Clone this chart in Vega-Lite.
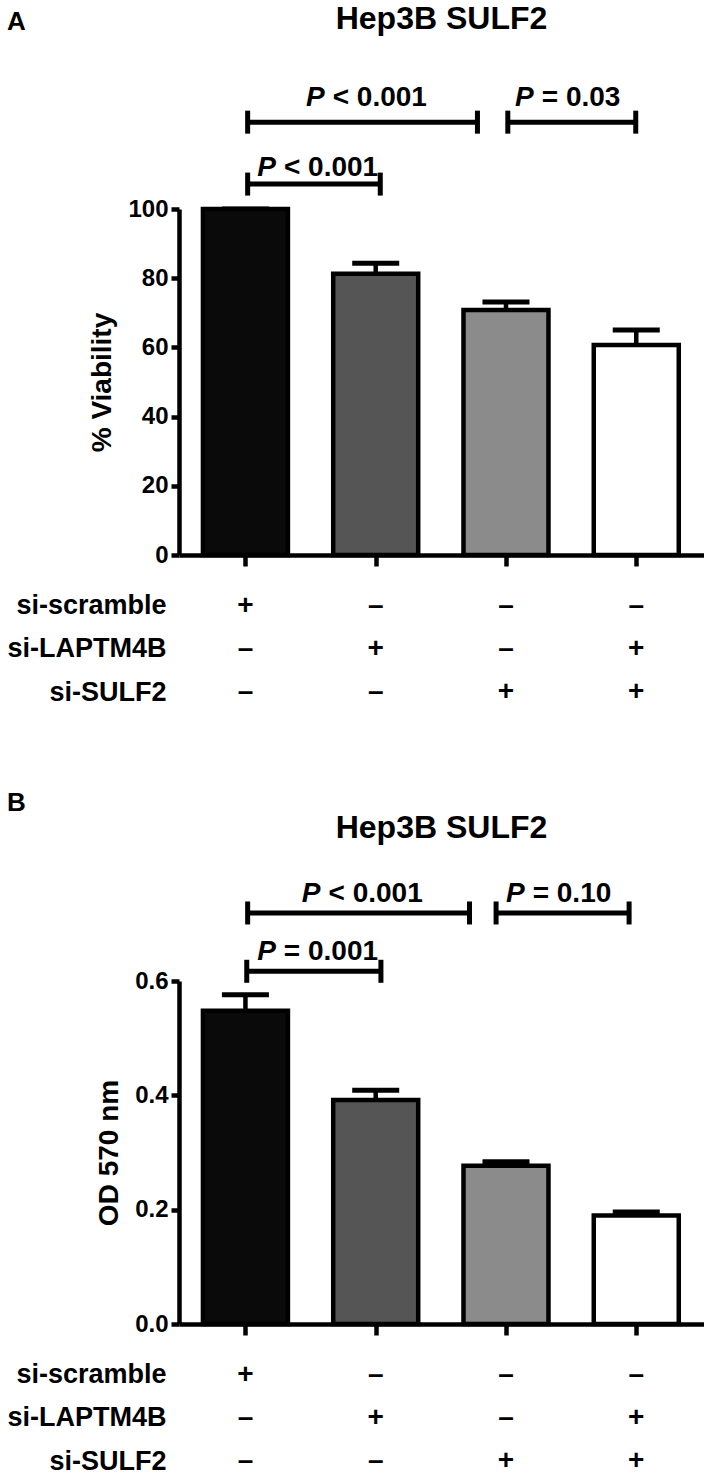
{
  "$schema": "https://vega.github.io/schema/vega-lite/v6.json",
  "padding": {"left": 6, "top": 2, "right": 0, "bottom": 0},
  "background": "white",
  "datasets": {
    "barsA": [
      {"pos": 1, "treatment": "si-scramble", "value": 100, "upper": 100},
      {"pos": 2, "treatment": "si-LAPTM4B", "value": 81.3, "upper": 84.3},
      {"pos": 3, "treatment": "si-SULF2", "value": 70.8, "upper": 73.1},
      {"pos": 4, "treatment": "si-LAPTM4B + si-SULF2", "value": 60.7, "upper": 65.0}
    ],
    "barsB": [
      {"pos": 1, "treatment": "si-scramble", "value": 0.548, "upper": 0.576},
      {"pos": 2, "treatment": "si-LAPTM4B", "value": 0.392, "upper": 0.409},
      {"pos": 3, "treatment": "si-SULF2", "value": 0.277, "upper": 0.284},
      {"pos": 4, "treatment": "si-LAPTM4B + si-SULF2", "value": 0.19, "upper": 0.196}
    ],
    "bracketsA": [
      {"from": 1.017, "to": 2.781, "mid": 1.9, "level": 125.1, "textLevel": 129.9, "label": "< 0.001"},
      {"from": 3.014, "to": 3.996, "mid": 3.505, "level": 125.1, "textLevel": 129.9, "label": "= 0.03"},
      {"from": 1.017, "to": 2.035, "mid": 1.526, "level": 107.2, "textLevel": 109.6, "label": "< 0.001"}
    ],
    "bracketsB": [
      {"from": 1.017, "to": 2.72, "mid": 1.868, "level": 0.719, "textLevel": 0.738, "label": "< 0.001"},
      {"from": 2.924, "to": 3.945, "mid": 3.435, "level": 0.719, "textLevel": 0.738, "label": "= 0.10"},
      {"from": 1.01, "to": 2.04, "mid": 1.525, "level": 0.617, "textLevel": 0.636, "label": "= 0.001"}
    ],
    "design": [
      {"pos": 1, "factor": "si-scramble", "sign": "+"},
      {"pos": 2, "factor": "si-scramble", "sign": "–"},
      {"pos": 3, "factor": "si-scramble", "sign": "–"},
      {"pos": 4, "factor": "si-scramble", "sign": "–"},
      {"pos": 1, "factor": "si-LAPTM4B", "sign": "–"},
      {"pos": 2, "factor": "si-LAPTM4B", "sign": "+"},
      {"pos": 3, "factor": "si-LAPTM4B", "sign": "–"},
      {"pos": 4, "factor": "si-LAPTM4B", "sign": "+"},
      {"pos": 1, "factor": "si-SULF2", "sign": "–"},
      {"pos": 2, "factor": "si-SULF2", "sign": "–"},
      {"pos": 3, "factor": "si-SULF2", "sign": "+"},
      {"pos": 4, "factor": "si-SULF2", "sign": "+"}
    ]
  },
  "spacing": 84,
  "vconcat": [
    {
      "title": {"text": "A", "anchor": "start", "frame": "bounds", "fontSize": 26, "offset": -32},
      "bounds": "flush",
      "spacing": 0,
      "vconcat": [
        {
          "width": 525,
          "height": 346,
          "title": {"text": "Hep3B SULF2", "fontSize": 32, "anchor": "middle", "frame": "group", "offset": 48},
          "layer": [
            {
              "data": {"name": "barsA"},
              "mark": {"type": "rule", "color": "black", "strokeWidth": 4.5},
              "encoding": {
                "x": {"field": "pos", "type": "quantitative", "title": null, "scale": {"domain": [0.49, 4.52], "padding": 0, "nice": false, "zero": false},
                  "axis": {"values": [1, 2, 3, 4], "labels": false, "tickSize": 11, "grid": false}},
                "y": {"field": "value", "type": "quantitative", "title": "% Viability", "scale": {"domain": [0, 100], "padding": 0, "nice": false, "zero": false},
                  "axis": {"values": [0, 20, 40, 60, 80, 100], "labelFontSize": 24, "titleFontSize": 28, "tickSize": 8, "labelPadding": 3, "titlePadding": 11, "grid": false}},
                "y2": {"field": "upper"}
              }
            },
            {
              "data": {"name": "barsA"},
              "mark": {"type": "tick", "orient": "horizontal", "size": 47, "thickness": 5, "color": "black", "opacity": 1},
              "encoding": {
                "x": {"field": "pos", "type": "quantitative", "title": null, "scale": {"domain": [0.49, 4.52], "padding": 0, "nice": false, "zero": false}},
                "y": {"field": "upper", "type": "quantitative", "title": "% Viability", "scale": {"domain": [0, 100], "padding": 0, "nice": false, "zero": false}}
              }
            },
            {
              "data": {"name": "barsA"},
              "mark": {"type": "bar", "orient": "vertical", "width": 85, "stroke": "black", "strokeWidth": 4.5},
              "encoding": {
                "x": {"field": "pos", "type": "quantitative", "title": null, "scale": {"domain": [0.49, 4.52], "padding": 0, "nice": false, "zero": false}},
                "y": {"field": "value", "type": "quantitative", "title": "% Viability", "scale": {"domain": [0, 100], "padding": 0, "nice": false, "zero": false}},
                "fill": {"field": "treatment", "type": "nominal", "scale": {"domain": ["si-scramble", "si-LAPTM4B", "si-SULF2", "si-LAPTM4B + si-SULF2"], "range": ["#0a0a0a", "#555555", "#8b8b8b", "#ffffff"]}, "legend": null}
              }
            },
            {
              "data": {"name": "bracketsA"},
              "mark": {"type": "rule", "color": "black", "strokeWidth": 5},
              "encoding": {
                "x": {"field": "from", "type": "quantitative", "title": null, "scale": {"domain": [0.49, 4.52], "padding": 0, "nice": false, "zero": false}},
                "x2": {"field": "to"},
                "y": {"field": "level", "type": "quantitative", "title": "% Viability", "scale": {"domain": [0, 100], "padding": 0, "nice": false, "zero": false}}
              }
            },
            {
              "data": {"name": "bracketsA"},
              "mark": {"type": "tick", "orient": "vertical", "size": 23, "thickness": 5, "color": "black", "opacity": 1},
              "encoding": {
                "x": {"field": "from", "type": "quantitative", "title": null, "scale": {"domain": [0.49, 4.52], "padding": 0, "nice": false, "zero": false}},
                "y": {"field": "level", "type": "quantitative", "title": "% Viability", "scale": {"domain": [0, 100], "padding": 0, "nice": false, "zero": false}}
              }
            },
            {
              "data": {"name": "bracketsA"},
              "mark": {"type": "tick", "orient": "vertical", "size": 23, "thickness": 5, "color": "black", "opacity": 1},
              "encoding": {
                "x": {"field": "to", "type": "quantitative", "title": null, "scale": {"domain": [0.49, 4.52], "padding": 0, "nice": false, "zero": false}},
                "y": {"field": "level", "type": "quantitative", "title": "% Viability", "scale": {"domain": [0, 100], "padding": 0, "nice": false, "zero": false}}
              }
            },
            {
              "data": {"name": "bracketsA"},
              "mark": {"type": "text", "text": "P", "fontStyle": "italic", "fontWeight": "bold", "fontSize": 28, "align": "right", "baseline": "alphabetic", "dx": -38, "color": "black"},
              "encoding": {
                "x": {"field": "mid", "type": "quantitative", "title": null, "scale": {"domain": [0.49, 4.52], "padding": 0, "nice": false, "zero": false}},
                "y": {"field": "textLevel", "type": "quantitative", "title": "% Viability", "scale": {"domain": [0, 100], "padding": 0, "nice": false, "zero": false}}
              }
            },
            {
              "data": {"name": "bracketsA"},
              "mark": {"type": "text", "fontWeight": "bold", "fontSize": 28, "align": "left", "baseline": "alphabetic", "dx": -30, "color": "black"},
              "encoding": {
                "x": {"field": "mid", "type": "quantitative", "title": null, "scale": {"domain": [0.49, 4.52], "padding": 0, "nice": false, "zero": false}},
                "y": {"field": "textLevel", "type": "quantitative", "title": "% Viability", "scale": {"domain": [0, 100], "padding": 0, "nice": false, "zero": false}},
                "text": {"field": "label"}
              }
            }
          ]
        },
        {
          "width": 525,
          "height": 137,
          "data": {"name": "design"},
          "mark": {"type": "text", "fontSize": 28, "fontWeight": "bold", "color": "black"},
          "encoding": {
            "x": {"field": "pos", "type": "quantitative", "scale": {"domain": [0.49, 4.52], "padding": 0, "nice": false, "zero": false}, "axis": null},
            "y": {"field": "factor", "type": "nominal", "sort": ["si-scramble", "si-LAPTM4B", "si-SULF2"],
              "scale": {"type": "point", "padding": 0.593, "align": 1},
              "axis": {"title": null, "domain": false, "ticks": false, "labelFontSize": 27, "labelPadding": 13, "grid": false}},
            "text": {"field": "sign"}
          }
        }
      ]
    },
    {
      "title": {"text": "B", "anchor": "start", "frame": "bounds", "fontSize": 26, "offset": -4},
      "bounds": "flush",
      "spacing": 0,
      "vconcat": [
        {
          "width": 525,
          "height": 343,
          "title": {"text": "Hep3B SULF2", "fontSize": 32, "anchor": "middle", "frame": "group", "offset": 35},
          "layer": [
            {
              "data": {"name": "barsB"},
              "mark": {"type": "rule", "color": "black", "strokeWidth": 4.5},
              "encoding": {
                "x": {"field": "pos", "type": "quantitative", "title": null, "scale": {"domain": [0.49, 4.52], "padding": 0, "nice": false, "zero": false},
                  "axis": {"values": [1, 2, 3, 4], "labels": false, "tickSize": 11, "grid": false}},
                "y": {"field": "value", "type": "quantitative", "title": "OD 570 nm", "scale": {"domain": [0, 0.6], "padding": 0, "nice": false, "zero": false},
                  "axis": {"values": [0, 0.2, 0.4, 0.6], "format": ".1f", "labelFontSize": 24, "titleFontSize": 28, "tickSize": 8, "labelPadding": 3, "titlePadding": 11, "grid": false}},
                "y2": {"field": "upper"}
              }
            },
            {
              "data": {"name": "barsB"},
              "mark": {"type": "tick", "orient": "horizontal", "size": 47, "thickness": 5, "color": "black", "opacity": 1},
              "encoding": {
                "x": {"field": "pos", "type": "quantitative", "title": null, "scale": {"domain": [0.49, 4.52], "padding": 0, "nice": false, "zero": false}},
                "y": {"field": "upper", "type": "quantitative", "title": "OD 570 nm", "scale": {"domain": [0, 0.6], "padding": 0, "nice": false, "zero": false}}
              }
            },
            {
              "data": {"name": "barsB"},
              "mark": {"type": "bar", "orient": "vertical", "width": 85, "stroke": "black", "strokeWidth": 4.5},
              "encoding": {
                "x": {"field": "pos", "type": "quantitative", "title": null, "scale": {"domain": [0.49, 4.52], "padding": 0, "nice": false, "zero": false}},
                "y": {"field": "value", "type": "quantitative", "title": "OD 570 nm", "scale": {"domain": [0, 0.6], "padding": 0, "nice": false, "zero": false}},
                "fill": {"field": "treatment", "type": "nominal", "scale": {"domain": ["si-scramble", "si-LAPTM4B", "si-SULF2", "si-LAPTM4B + si-SULF2"], "range": ["#0a0a0a", "#555555", "#8b8b8b", "#ffffff"]}, "legend": null}
              }
            },
            {
              "data": {"name": "bracketsB"},
              "mark": {"type": "rule", "color": "black", "strokeWidth": 5},
              "encoding": {
                "x": {"field": "from", "type": "quantitative", "title": null, "scale": {"domain": [0.49, 4.52], "padding": 0, "nice": false, "zero": false}},
                "x2": {"field": "to"},
                "y": {"field": "level", "type": "quantitative", "title": "OD 570 nm", "scale": {"domain": [0, 0.6], "padding": 0, "nice": false, "zero": false}}
              }
            },
            {
              "data": {"name": "bracketsB"},
              "mark": {"type": "tick", "orient": "vertical", "size": 23, "thickness": 5, "color": "black", "opacity": 1},
              "encoding": {
                "x": {"field": "from", "type": "quantitative", "title": null, "scale": {"domain": [0.49, 4.52], "padding": 0, "nice": false, "zero": false}},
                "y": {"field": "level", "type": "quantitative", "title": "OD 570 nm", "scale": {"domain": [0, 0.6], "padding": 0, "nice": false, "zero": false}}
              }
            },
            {
              "data": {"name": "bracketsB"},
              "mark": {"type": "tick", "orient": "vertical", "size": 23, "thickness": 5, "color": "black", "opacity": 1},
              "encoding": {
                "x": {"field": "to", "type": "quantitative", "title": null, "scale": {"domain": [0.49, 4.52], "padding": 0, "nice": false, "zero": false}},
                "y": {"field": "level", "type": "quantitative", "title": "OD 570 nm", "scale": {"domain": [0, 0.6], "padding": 0, "nice": false, "zero": false}}
              }
            },
            {
              "data": {"name": "bracketsB"},
              "mark": {"type": "text", "text": "P", "fontStyle": "italic", "fontWeight": "bold", "fontSize": 28, "align": "right", "baseline": "alphabetic", "dx": -38, "color": "black"},
              "encoding": {
                "x": {"field": "mid", "type": "quantitative", "title": null, "scale": {"domain": [0.49, 4.52], "padding": 0, "nice": false, "zero": false}},
                "y": {"field": "textLevel", "type": "quantitative", "title": "OD 570 nm", "scale": {"domain": [0, 0.6], "padding": 0, "nice": false, "zero": false}}
              }
            },
            {
              "data": {"name": "bracketsB"},
              "mark": {"type": "text", "fontWeight": "bold", "fontSize": 28, "align": "left", "baseline": "alphabetic", "dx": -30, "color": "black"},
              "encoding": {
                "x": {"field": "mid", "type": "quantitative", "title": null, "scale": {"domain": [0.49, 4.52], "padding": 0, "nice": false, "zero": false}},
                "y": {"field": "textLevel", "type": "quantitative", "title": "OD 570 nm", "scale": {"domain": [0, 0.6], "padding": 0, "nice": false, "zero": false}},
                "text": {"field": "label"}
              }
            }
          ]
        },
        {
          "width": 525,
          "height": 137,
          "data": {"name": "design"},
          "mark": {"type": "text", "fontSize": 28, "fontWeight": "bold", "color": "black"},
          "encoding": {
            "x": {"field": "pos", "type": "quantitative", "scale": {"domain": [0.49, 4.52], "padding": 0, "nice": false, "zero": false}, "axis": null},
            "y": {"field": "factor", "type": "nominal", "sort": ["si-scramble", "si-LAPTM4B", "si-SULF2"],
              "scale": {"type": "point", "padding": 0.593, "align": 1},
              "axis": {"title": null, "domain": false, "ticks": false, "labelFontSize": 27, "labelPadding": 13, "grid": false}},
            "text": {"field": "sign"}
          }
        }
      ]
    }
  ],
  "config": {
    "font": "Liberation Sans",
    "view": {"stroke": null},
    "axis": {"grid": false, "domainColor": "black", "domainWidth": 4.5, "tickColor": "black", "tickWidth": 4.5, "labelColor": "black", "labelFont": "Liberation Sans", "labelFontWeight": "bold", "titleColor": "black", "titleFont": "Liberation Sans", "titleFontWeight": "bold"},
    "title": {"font": "Liberation Sans", "fontWeight": "bold", "color": "black", "fontSize": 28},
    "style": {"group-title": {"fontSize": 26, "fontWeight": "bold", "font": "Liberation Sans"}},
    "text": {"font": "Liberation Sans"}
  }
}
